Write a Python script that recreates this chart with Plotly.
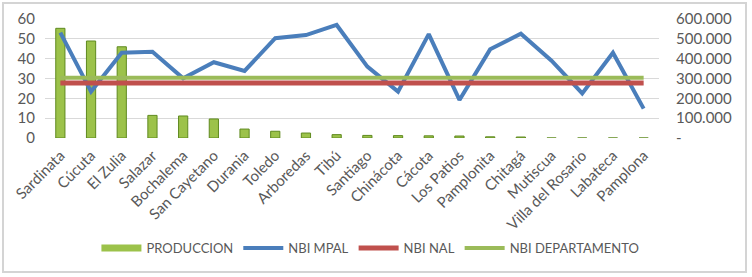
import plotly.graph_objects as go

municipios = ["Sardinata", "Cúcuta", "El Zulia", "Salazar", "Bochalema", "San Cayetano",
              "Durania", "Toledo", "Arboredas", "Tibú", "Santiago", "Chinácota", "Cácota",
              "Los Patios", "Pamplonita", "Chitagá", "Mutiscua", "Villa del Rosario",
              "Labateca", "Pamplona"]

produccion = [553000, 489000, 460000, 114000, 111000, 96000, 45000, 34000, 25000, 17000,
              13000, 12000, 11000, 10000, 6000, 5000, 0, 0, 0, 0]

nbi_mpal = [53.1, 23.4, 43.0, 43.5, 30.1, 38.2, 33.8, 50.3, 51.9, 57.0,
            36.0, 23.4, 52.4, 19.2, 44.7, 52.6, 39.0, 22.5, 43.0, 14.8]

nbi_nal_value = 27.78
nbi_dep_value = 30.43
nbi_nal = [nbi_nal_value] * len(municipios)
nbi_dep = [nbi_dep_value] * len(municipios)

left_ticks = [0, 10, 20, 30, 40, 50, 60]
right_tickvals = [0, 100000, 200000, 300000, 400000, 500000, 600000]
right_ticktext = ["-", "100.000", "200.000", "300.000", "400.000", "500.000", "600.000"]

FONT = "Lato, 'Open Sans', sans-serif"
GRAY = "#595959"
BAR_FILL = "#9cc24a"

fig = go.Figure()

fig.add_trace(go.Bar(
    x=municipios, y=produccion, name="PRODUCCION", yaxis="y",
    width=0.3, showlegend=False,
    marker=dict(color=BAR_FILL, line=dict(color="#5f8a1f", width=1)),
))
# legend entry drawn as a wide swatch like the original
fig.add_trace(go.Scatter(
    x=[None], y=[None], name="PRODUCCION", yaxis="y", mode="lines",
    line=dict(color=BAR_FILL, width=7),
))
fig.add_trace(go.Scatter(
    x=municipios, y=nbi_mpal, name="NBI MPAL", yaxis="y2", mode="lines",
    line=dict(color="#4a7ebb", width=4),
))
fig.add_trace(go.Scatter(
    x=municipios, y=nbi_nal, name="NBI NAL", yaxis="y2", mode="lines",
    line=dict(color="#c0504d", width=5),
))
fig.add_trace(go.Scatter(
    x=municipios, y=nbi_dep, name="NBI DEPARTAMENTO", yaxis="y2", mode="lines",
    line=dict(color="#9bbb59", width=4),
))

fig.update_layout(
    width=752, height=277,
    margin=dict(l=45, r=93, t=19, b=139, autoexpand=False),
    paper_bgcolor="white", plot_bgcolor="white",
    font=dict(family=FONT, size=14, color=GRAY),
    xaxis=dict(
        tickangle=-45, showgrid=False, showline=False, ticks="", automargin=False,
        ticklabelstandoff=5,
        tickfont=dict(family=FONT, size=15, color=GRAY),
    ),
    yaxis=dict(
        side="right", range=[0, 600000], tickvals=right_tickvals, ticktext=right_ticktext,
        showgrid=True, gridcolor="#d9d9d9", gridwidth=1, zeroline=False, showline=False,
        ticks="", ticklabelstandoff=16, automargin=False,
        tickfont=dict(family=FONT, size=15, color=GRAY),
    ),
    yaxis2=dict(
        side="left", overlaying="y", range=[0, 60], tickvals=left_ticks,
        showgrid=False, zeroline=False, showline=False, ticks="", automargin=False,
        ticklabelstandoff=9,
        tickfont=dict(family=FONT, size=15, color=GRAY),
    ),
    legend=dict(
        orientation="h", x=0.53, xanchor="center", y=-0.924, yanchor="middle",
        font=dict(family=FONT, size=13, color=GRAY),
        itemwidth=40, traceorder="normal", bgcolor="rgba(0,0,0,0)",
    ),
    shapes=[dict(
        type="rect", xref="paper", yref="paper",
        x0=-0.0684, x1=1.1417, y0=-1.126, y1=1.134,
        line=dict(color="#d4d4d4", width=2), fillcolor="rgba(0,0,0,0)", layer="below",
    )],
)

fig.write_html("out.html", config={"displayModeBar": False},
               post_script="document.body.style.margin='0px';")
